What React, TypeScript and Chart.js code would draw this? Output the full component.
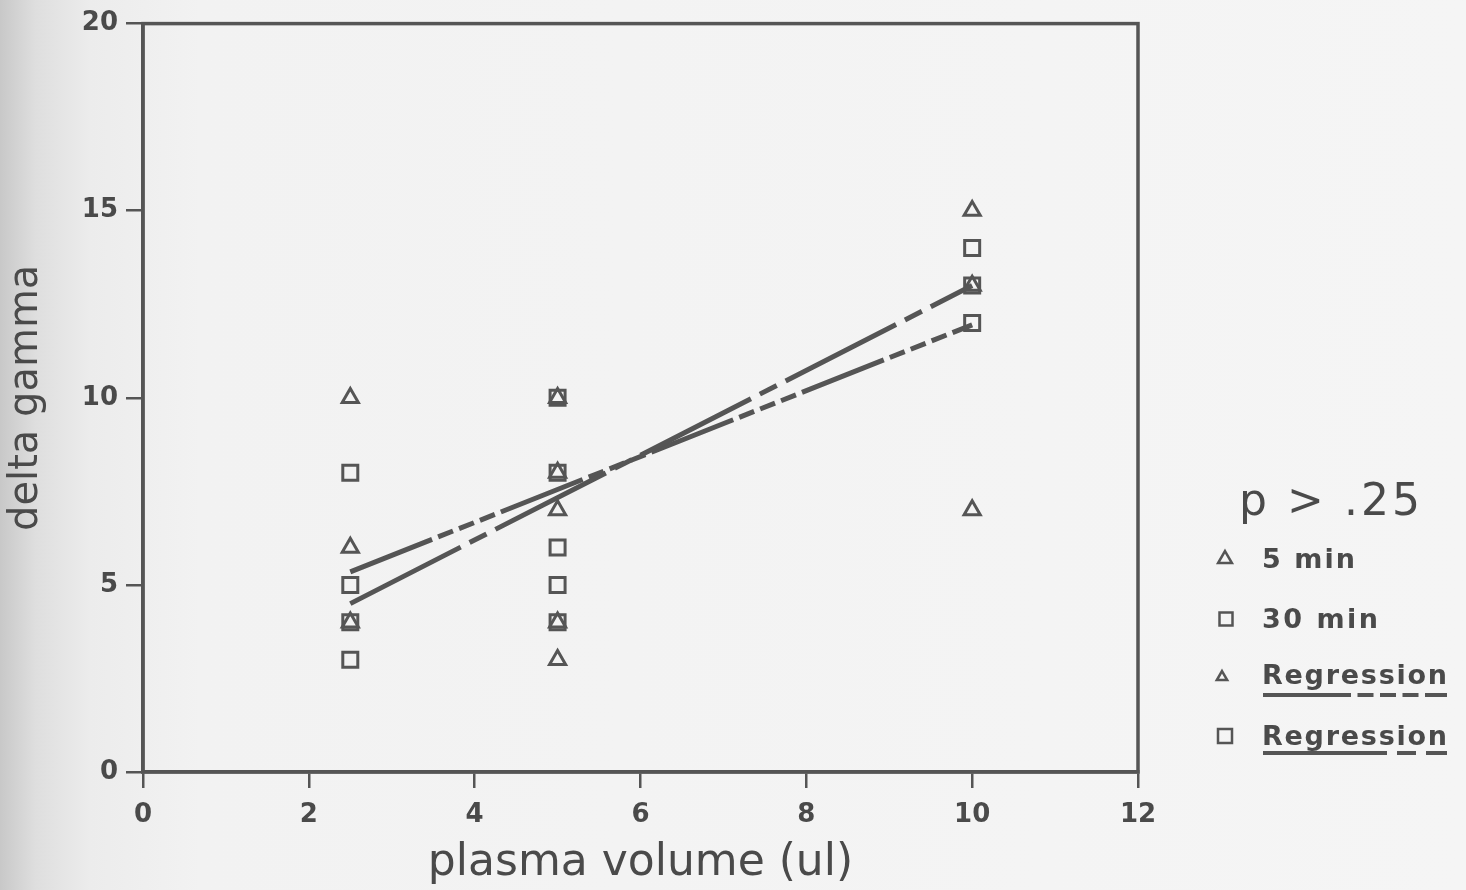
import React, { useEffect, useRef } from "react";
import { Chart, registerables } from "chart.js";

Chart.register(...registerables);

// ---- data ----
const xTickValues = [0, 2, 4, 6, 8, 10, 12];
const yTickValues = [0, 5, 10, 15, 20];

const fiveMinX = [2.5, 2.5, 2.5, 5, 5, 5, 5, 5, 10, 10, 10];
const fiveMinY = [10, 6, 4, 10, 8, 7, 4, 3, 15, 13, 7];

const thirtyMinX = [2.5, 2.5, 2.5, 2.5, 5, 5, 5, 5, 5, 10, 10, 10];
const thirtyMinY = [8, 5, 4, 3, 10, 8, 6, 5, 4, 14, 13, 12];

const regressionX = [2.5, 10];
const regressionFiveMinY = [5.35, 11.95];
const regressionThirtyMinY = [4.5, 13.0];

const xTitle = "plasma volume (ul)";
const yTitle = "delta gamma";
const pLabel = "p > .25";
const legendLabels = ["5 min", "30 min", "Regression", "Regression"];

// ---- styles ----
const INK = "#555555";
const TEXT = "#4a4a4a";
const FONT = "'DejaVu Sans', 'Noto Sans', sans-serif";
const DASH_FIVE = [88, 6.5, 16, 6.5, 16, 6.5, 16, 6.5];
const DASH_THIRTY = [124, 10, 19, 10];

const zip = (xs: number[], ys: number[]) => xs.map((x, i) => ({ x, y: ys[i] }));

function fitText(ctx: CanvasRenderingContext2D, text: string, x: number, y: number, width: number) {
  const anyCtx = ctx as any;
  anyCtx.letterSpacing = "0px";
  const w = ctx.measureText(text).width;
  const n = text.length;
  const ls = n > 1 ? (width - w) / (n - 1) : 0;
  anyCtx.letterSpacing = ls + "px";
  ctx.fillText(text, x, y);
  anyCtx.letterSpacing = "0px";
}

function drawTri(ctx: CanvasRenderingContext2D, cx: number, cy: number, r: number, lw: number) {
  ctx.beginPath();
  ctx.moveTo(cx, cy - r);
  ctx.lineTo(cx + r * 0.866, cy + r / 2);
  ctx.lineTo(cx - r * 0.866, cy + r / 2);
  ctx.closePath();
  ctx.lineWidth = lw;
  ctx.strokeStyle = INK;
  ctx.stroke();
}

function drawSq(ctx: CanvasRenderingContext2D, cx: number, cy: number, h: number, lw: number) {
  ctx.lineWidth = lw;
  ctx.strokeStyle = INK;
  ctx.strokeRect(cx - h, cy - h, 2 * h, 2 * h);
}

const framePlugin = {
  id: "frame",
  beforeDatasetsDraw(chart: any) {
    const { ctx, chartArea } = chart;
    ctx.save();
    ctx.strokeStyle = INK;
    ctx.lineWidth = 3.5;
    ctx.strokeRect(chartArea.left, chartArea.top, chartArea.right - chartArea.left, chartArea.bottom - chartArea.top);
    ctx.restore();
  },
};

const legendPlugin = {
  id: "customLegend",
  afterDraw(chart: any) {
    const ctx: CanvasRenderingContext2D = chart.ctx;
    ctx.save();
    ctx.fillStyle = TEXT;
    ctx.textAlign = "left";
    ctx.textBaseline = "alphabetic";

    ctx.font = `44px ${FONT}`;
    fitText(ctx, pLabel, 1239, 515, 181);

    ctx.font = `bold 27px ${FONT}`;
    drawTri(ctx, 1225, 559, 8, 2.5);
    fitText(ctx, legendLabels[0], 1262, 568, 93);

    drawSq(ctx, 1226, 619, 6.5, 2.5);
    fitText(ctx, legendLabels[1], 1262, 628, 116);

    drawTri(ctx, 1222, 677, 6, 2.5);
    fitText(ctx, legendLabels[2], 1262, 684, 185);

    drawSq(ctx, 1225, 736, 7, 2.5);
    fitText(ctx, legendLabels[3], 1262, 745, 185);

    ctx.strokeStyle = INK;
    ctx.lineWidth = 4;
    ctx.lineCap = "butt";
    ctx.setLineDash(DASH_FIVE);
    ctx.beginPath();
    ctx.moveTo(1263, 695);
    ctx.lineTo(1447, 695);
    ctx.stroke();

    ctx.setLineDash(DASH_THIRTY);
    ctx.beginPath();
    ctx.moveTo(1263, 753);
    ctx.lineTo(1447, 753);
    ctx.stroke();
    ctx.setLineDash([]);
    ctx.restore();
  },
};

export default function App() {
  const canvasRef = useRef<HTMLCanvasElement | null>(null);

  useEffect(() => {
    document.body.style.margin = "0";
    const canvas = canvasRef.current;
    if (!canvas) return;
    const chart = new Chart(canvas, {
      type: "scatter",
      data: {
        datasets: [
          {
            label: "Regression 30 min",
            data: zip(regressionX, regressionThirtyMinY),
            showLine: true,
            borderColor: INK,
            borderWidth: 5,
            borderDash: DASH_THIRTY,
            borderCapStyle: "butt",
            pointRadius: 0,
            fill: false,
          },
          {
            label: "Regression 5 min",
            data: zip(regressionX, regressionFiveMinY),
            showLine: true,
            borderColor: INK,
            borderWidth: 5,
            borderDash: DASH_FIVE,
            borderCapStyle: "butt",
            pointRadius: 0,
            fill: false,
          },
          {
            label: "30 min",
            data: zip(thirtyMinX, thirtyMinY),
            pointStyle: "rect",
            pointRadius: 10.6,
            pointBorderWidth: 3,
            borderColor: INK,
            backgroundColor: "rgba(0,0,0,0)",
            pointBackgroundColor: "rgba(0,0,0,0)",
            pointBorderColor: INK,
          },
          {
            label: "5 min",
            data: zip(fiveMinX, fiveMinY),
            pointStyle: "triangle",
            pointRadius: 9.3,
            pointBorderWidth: 3,
            borderColor: INK,
            backgroundColor: "rgba(0,0,0,0)",
            pointBackgroundColor: "rgba(0,0,0,0)",
            pointBorderColor: INK,
          },
        ],
      },
      options: {
        responsive: false,
        animation: false,
        devicePixelRatio: 1,
        events: [],
        layout: { padding: { left: 0, top: 19, right: 1466 - 1138, bottom: 0 } },
        plugins: {
          legend: { display: false },
          tooltip: { enabled: false },
          title: { display: false },
        },
        scales: {
          x: {
            type: "linear",
            min: 0,
            max: 12,
            afterBuildTicks: (scale: any) => {
              scale.ticks = xTickValues.map((v) => ({ value: v }));
            },
            afterFit: (scale: any) => {
              scale.height = 890 - 772;
            },
            ticks: {
              color: TEXT,
              font: { family: FONT, size: 26, weight: "bold" },
              padding: 12,
              maxRotation: 0,
              autoSkip: false,
            },
            grid: {
              display: true,
              drawOnChartArea: false,
              drawTicks: true,
              tickLength: 16,
              color: INK,
              lineWidth: 2.5,
            },
            border: { display: true, color: INK, width: 3.5 },
            title: {
              display: true,
              text: xTitle,
              color: TEXT,
              font: { family: FONT, size: 44 },
              padding: { top: 0, bottom: 0 },
            },
          },
          y: {
            type: "linear",
            min: 0,
            max: 20,
            afterBuildTicks: (scale: any) => {
              scale.ticks = yTickValues.map((v) => ({ value: v }));
            },
            afterFit: (scale: any) => {
              scale.width = 143;
            },
            ticks: {
              color: TEXT,
              font: { family: FONT, size: 26, weight: "bold" },
              padding: 8,
            },
            grid: {
              display: true,
              drawOnChartArea: false,
              drawTicks: true,
              tickLength: 17,
              color: INK,
              lineWidth: 2.5,
            },
            border: { display: true, color: INK, width: 3.5 },
            title: {
              display: true,
              text: yTitle,
              color: TEXT,
              font: { family: FONT, size: 40 },
              padding: { top: 3, bottom: 0 },
            },
          },
        },
      },
      plugins: [framePlugin, legendPlugin],
    } as any);
    return () => chart.destroy();
  }, []);

  return (
    <div
      style={{
        position: "fixed",
        left: 0,
        top: 0,
        width: 1466,
        height: 890,
        background:
          "linear-gradient(to right, #c8c8c8 0px, #dedede 35px, #ececec 90px, #f2f2f2 200px, #f5f5f5 100%)",
      }}
    >
      <canvas ref={canvasRef} width={1466} height={890} style={{ display: "block" }} />
    </div>
  );
}
